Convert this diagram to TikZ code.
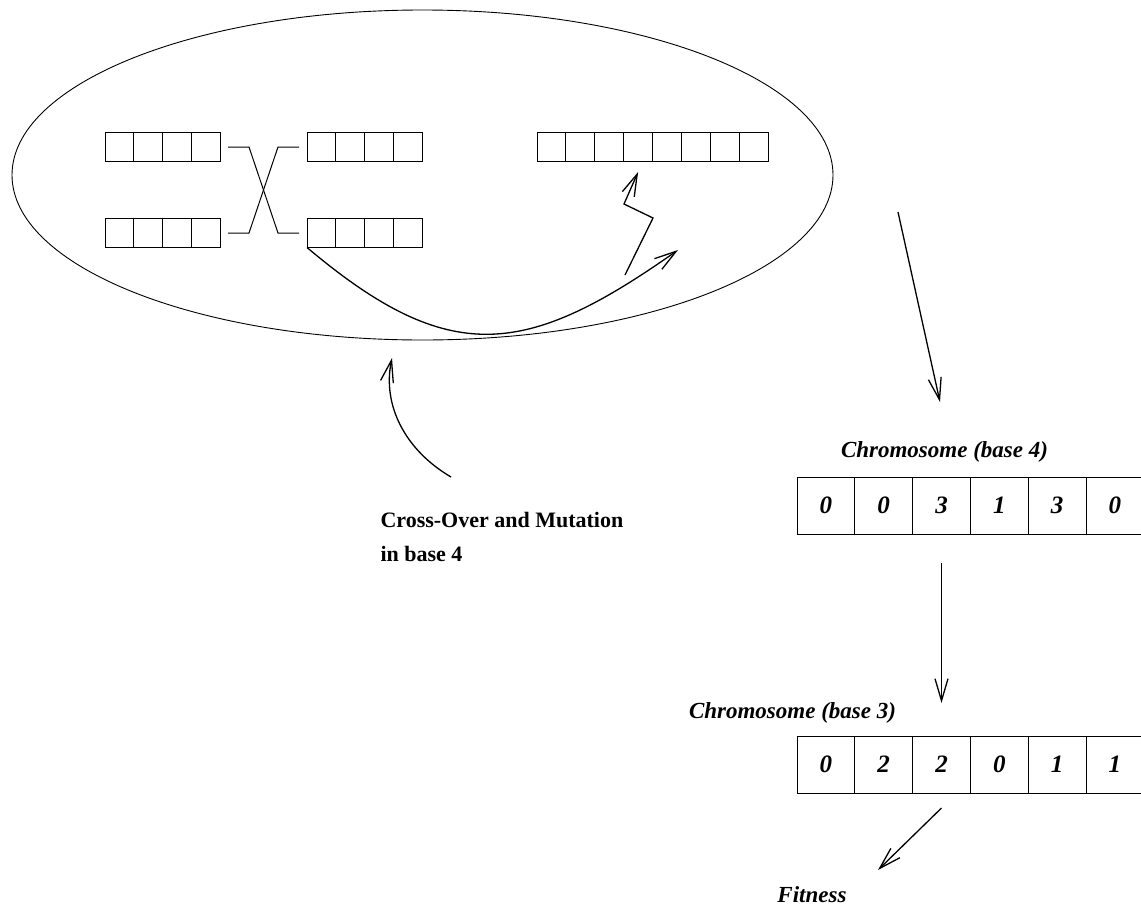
\documentclass[tikz,border=0pt]{standalone}
\usepackage{fontspec}
\setmainfont{Liberation Serif}
\usetikzlibrary{positioning, shapes.geometric, arrows.meta}

\begin{document}
\begin{tikzpicture}[x=1pt, y=-1pt, line width=1pt,
    cell/.style = {draw, rectangle, inner sep=0pt, outer sep=0pt,
                   minimum width=28.75pt, minimum height=29pt},
    gene/.style = {draw, rectangle, inner sep=0pt, outer sep=0pt,
                   minimum width=57.8pt, minimum height=57pt,
                   font=\fontsize{25}{28}\selectfont\bfseries\itshape},
    chromlabel/.style = {anchor=base, inner sep=0pt,
                         font=\fontsize{23}{26}\selectfont\bfseries\itshape},
    oplabel/.style = {anchor=base west, inner sep=0pt,
                      font=\fontsize{22}{26}\selectfont\bfseries},
    arrow/.style = {line width=1.3pt, -{Straight Barb[length=22pt,width=13pt]}}]

    \clip (0,0) rectangle (1141,905);

    % Population
    \node [draw, ellipse, line width=0.9pt, minimum width=821pt, minimum height=330pt, inner sep=0pt] (pop) at (422.5,175) {};

    % Parents, children and mutant
    \foreach \i in {1,...,4} {
        \node [cell] (pa-\i) at (90.625+28.75*\i, 147) {};
        \node [cell] (pb-\i) at (90.625+28.75*\i, 233) {};
        \node [cell] (ca-\i) at (292.625+28.75*\i, 147) {};
        \node [cell] (cb-\i) at (292.625+28.75*\i, 233) {};
    }
    \foreach \i in {1,...,8}
        \node [cell, minimum width=28.875pt] (mu-\i) at (522.6+28.875*\i, 146.5) {};

    % Cross-over
    \draw ([xshift=8pt]pa-4.east) -- ++(21,0) -- ([xshift=-29pt]cb-1.west) -- ([xshift=-8pt]cb-1.west);
    \draw ([xshift=8pt]pb-4.east) -- ++(21,0) -- ([xshift=-29pt]ca-1.west) -- ([xshift=-8pt]ca-1.west);

    % Mutation
    \coordinate (cross-tip) at (678,250);
    \coordinate (mut-start) at (625,275);
    \draw [arrow] (cb-1.south west) .. controls (450,368) and (526,357) .. (cross-tip);
    \draw [arrow] (mut-start) -- ++(28,-57) -- ++(-29,-14) -- ([yshift=-11pt]mu-4.south);

    % Operators
    \node [oplabel] (op-1) at (380,527) {Cross-Over and Mutation};
    \node [oplabel] (op-2) at ([yshift=-34pt]op-1.base west) {in base 4};
    \coordinate (op-start) at (451,477);
    \coordinate (op-tip) at (392,358);
    \draw [arrow] (op-start) .. controls (405,450) and (382,405) .. (op-tip);

    % Chromosomes
    \node [chromlabel] (b4-label) at (944.5,457) {Chromosome (base 4)};
    \foreach \g [count=\i] in {0,0,3,1,3,0}
        \node [gene] (b4-\i) at (768.1+57.8*\i, 505.5) {\g};
    \node [chromlabel] (b3-label) at (792.5,718) {Chromosome (base 3)};
    \foreach \g [count=\i] in {0,2,2,0,1,1}
        \node [gene] (b3-\i) at (768.1+57.8*\i, 764.5) {\g};
    \node [chromlabel] (fitness) at (812,902) {Fitness};

    % Decoding
    \coordinate (pop-out) at (898,212);
    \coordinate (b4-in) at (940,402);
    \coordinate (fit-in) at (878,870);
    \draw [arrow] (pop-out) -- (b4-in);
    \draw [arrow] ([yshift=-29pt]b4-3.south) -- ([yshift=33pt]b3-3.north);
    \draw [arrow] ([yshift=-15pt]b3-3.south) -- (fit-in);
\end{tikzpicture}
\end{document}
